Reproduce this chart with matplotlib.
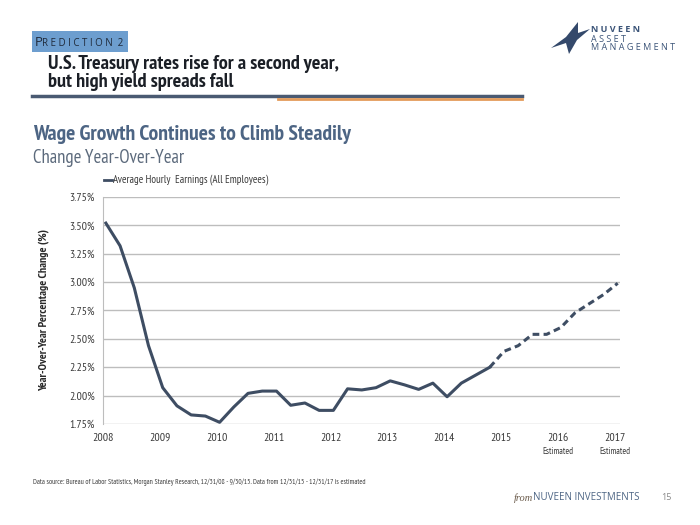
import matplotlib
matplotlib.use("Agg")
import matplotlib.pyplot as plt
from matplotlib.patches import Polygon, Rectangle
from matplotlib.lines import Line2D

# quarterly points, 12/31/08 .. 9/30/15 actual, 12/31/15 .. 12/31/17 estimated
actual_x = [2008.05 + 0.25 * i for i in range(28)]
actual_y = [3.52, 3.32, 2.95, 2.44, 2.07, 1.91, 1.83, 1.82, 1.765, 1.90,
            2.02, 2.04, 2.04, 1.915, 1.935, 1.87, 1.87, 2.06, 2.05, 2.07,
            2.13, 2.095, 2.055, 2.11, 1.99, 2.11, 2.18, 2.25]
est_x = [actual_x[-1] + 0.25 * i for i in range(10)]
est_y = [2.25, 2.39, 2.44, 2.54, 2.54, 2.60, 2.73, 2.81, 2.89, 2.99]

years = list(range(2008, 2018))
year_labels = [str(y) for y in years]
y_ticks = [1.75, 2.00, 2.25, 2.50, 2.75, 3.00, 3.25, 3.50, 3.75]

NARROW = ["PT Sans Narrow", "Open Sans Condensed", "DejaVu Sans"]
HUMAN = ["Open Sans", "DejaVu Sans"]
SLATE = "#3e4d63"
BLUE = "#4d6584"
TXT = "#3a3a3a"

W, H = 700, 525
fig = plt.figure(figsize=(7, 5.25), dpi=100)


def fx(px):
    return px / W


def fy(py):
    return 1 - py / H


# header
fig.patches.append(Rectangle((fx(32), fy(52)), fx(96), 21 / H, transform=fig.transFigure,
                             facecolor="#6d9ecf", edgecolor="none"))
fig.text(fx(35), fy(46), "P", fontsize=9.5, color="#1f2a3a", va="baseline", family=HUMAN)
fig.text(fx(42), fy(46), "R E D I C T I O N  2", fontsize=7.0, color="#1f2a3a",
         va="baseline", family=HUMAN)
fig.text(fx(48), fy(73), "U.S. Treasury rates rise for a second year,\nbut high yield spreads fall",
         fontsize=14.6, fontweight="bold", color="#1b1f26", va="center", linespacing=1.0,
         family=NARROW)
fig.add_artist(Line2D([fx(32), fx(522)], [fy(96), fy(96)], color="#4a5a72", lw=2.5))
fig.add_artist(Line2D([fx(278), fx(522)], [fy(99), fy(99)], color="#e39b5a", lw=2.0))

# logo
star = [(551, 48), (566, 37), (578, 22), (578, 33), (590, 29), (577, 40), (569, 54), (566, 43)]
fig.patches.append(Polygon([(fx(a), fy(b)) for a, b in star], closed=True,
                           transform=fig.transFigure, facecolor="#34496b", edgecolor="none"))
fig.text(fx(591), fy(30), "N U V E E N", fontsize=6.5, fontweight="bold", color="#3b5478",
         va="center", family=HUMAN)
fig.text(fx(591), fy(39), "A S S E T", fontsize=6.5, color="#3b5478", va="center", family=HUMAN)
fig.text(fx(591), fy(48), "M A N A G E M E N T", fontsize=6.5, color="#3b5478", va="center",
         family=HUMAN)

# chart titles
fig.text(fx(33), fy(135), "Wage Growth Continues to Climb Steadily", fontsize=15.6,
         fontweight="bold", color=BLUE, va="center", family=NARROW)
fig.text(fx(33), fy(158), "Change Year-Over-Year", fontsize=13.5, color="#5c6a7c",
         va="center", family=NARROW)

ax = fig.add_axes([fx(103), fy(424), fx(620 - 103), (424 - 197) / H])
ax.plot(actual_x, actual_y, color=SLATE, lw=2.2, solid_joinstyle="round")
ax.plot(est_x, est_y, color=SLATE, lw=2.2, ls=(0, (2.2, 1.4)))
ax.set_xlim(2008, 2017.09)
ax.set_ylim(1.75, 3.75)
ax.set_yticks(y_ticks)
ax.set_yticklabels([f"{v:.2f}%" for v in y_ticks], fontsize=8.5, color=TXT, family=NARROW)
ax.set_xticks(years)
ax.set_xticklabels(year_labels, fontsize=8.5, color=TXT, family=NARROW, va="baseline")
ax.tick_params(axis="y", length=0, pad=6)
ax.tick_params(axis="x", length=0, pad=12)
ax.grid(axis="y", color="#bdbdbd", lw=1)
ax.set_axisbelow(True)
for s in ["top", "right", "bottom"]:
    ax.spines[s].set_visible(False)
ax.spines["left"].set_color("#bdbdbd")
ax.set_ylabel("Year-Over-Year Percentage Change (%)", fontsize=8.5, fontweight="bold",
              color="#2a2a2a", family=NARROW, labelpad=14)

for yr in [2016, 2017]:
    ax.text(yr, -0.12, "Estimated", transform=ax.get_xaxis_transform(), ha="center",
            va="center", fontsize=6.5, color=TXT, family=NARROW)

# legend
fig.add_artist(Line2D([fx(104), fx(112)], [fy(180), fy(180)], color=SLATE, lw=2))
fig.text(fx(113), fy(180), "Average Hourly  Earnings (All Employees)", fontsize=7.8,
         color=TXT, va="center", family=NARROW)

# footer
fig.text(fx(33), fy(482), "Data source: Bureau of Labor Statistics, Morgan Stanley Research, "
         "12/31/08 - 9/30/15. Data from 12/31/15 - 12/31/17 is estimated",
         fontsize=5.3, color=TXT, va="center", family=NARROW)
fig.text(fx(514), fy(498), "from", fontsize=7.5, style="italic", color="#6a5a4a", va="center",
         family=["Liberation Serif", "DejaVu Serif"])
fig.text(fx(533), fy(498), "NUVEEN INVESTMENTS", fontsize=7, color=BLUE, va="center",
         family=HUMAN)
fig.text(fx(661), fy(498), "15", fontsize=6.5, color="#888888", va="center", family=HUMAN)

fig.savefig("out.png", dpi=100)
